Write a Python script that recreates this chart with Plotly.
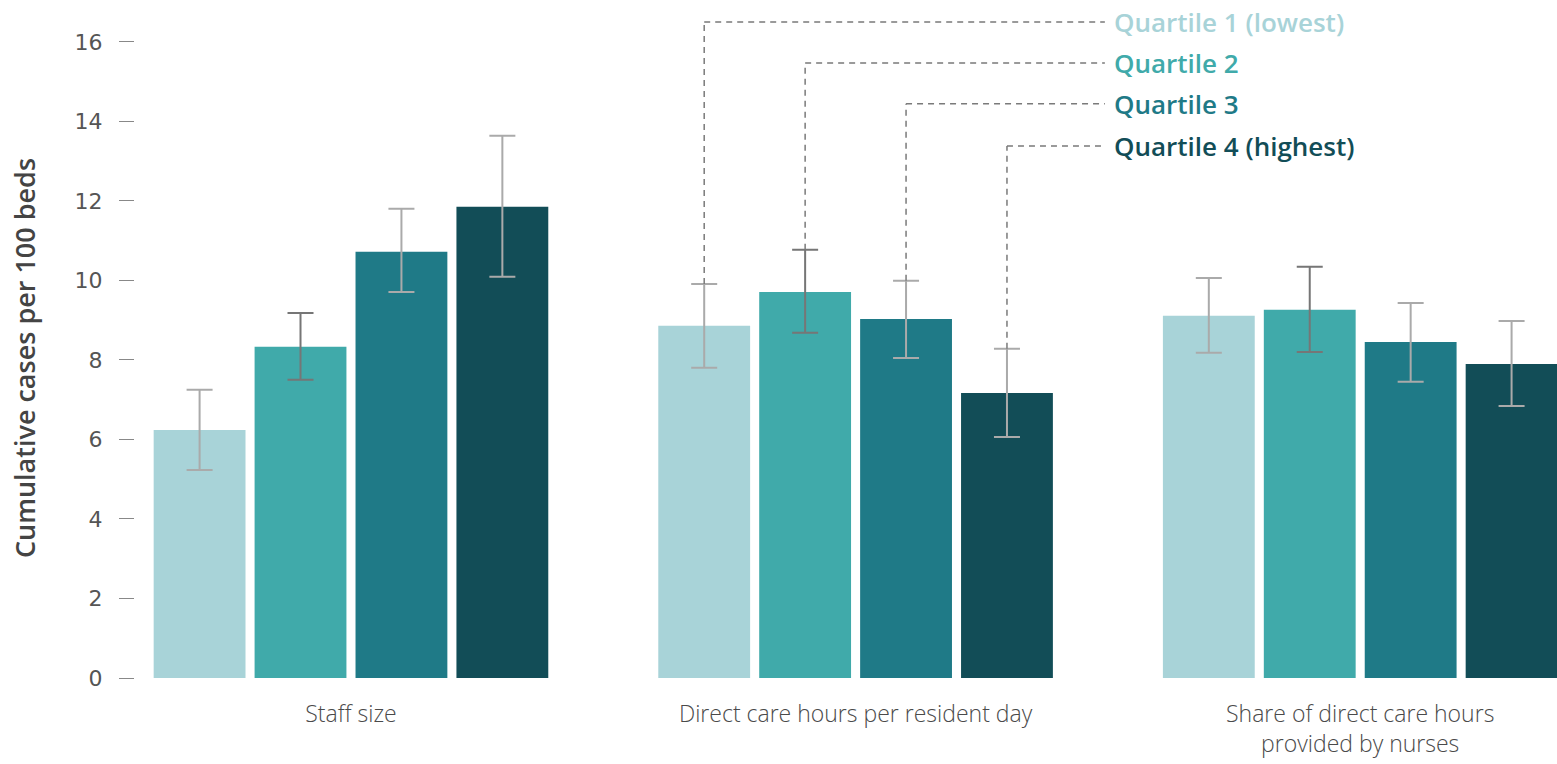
import plotly.graph_objects as go

# Facility characteristic groups and quartile series
categories = ["Staff size", "Direct care hours per resident day",
              "Share of direct care hours<br>provided by nurses"]
quartiles = ["Quartile 1 (lowest)", "Quartile 2", "Quartile 3", "Quartile 4 (highest)"]

q1_values = [6.24, 8.86, 9.11]
q2_values = [8.33, 9.71, 9.26]
q3_values = [10.72, 9.03, 8.45]
q4_values = [11.85, 7.17, 7.90]

q1_upper = [7.25, 9.91, 10.06]
q2_upper = [9.18, 10.77, 10.34]
q3_upper = [11.80, 9.99, 9.43]
q4_upper = [13.64, 8.28, 8.98]

q1_lower = [5.23, 7.80, 8.18]
q2_lower = [7.50, 8.68, 8.20]
q3_lower = [9.71, 8.05, 7.45]
q4_lower = [10.09, 6.06, 6.84]

y_ticks = [0, 2, 4, 6, 8, 10, 12, 14, 16]

values = [q1_values, q2_values, q3_values, q4_values]
uppers = [q1_upper, q2_upper, q3_upper, q4_upper]
lowers = [q1_lower, q2_lower, q3_lower, q4_lower]

colors = ["#a8d3d8", "#40aaaa", "#1f7a87", "#124d57"]
err_colors = ["#aaaaaa", "#767676", "#aaaaaa", "#aaaaaa"]

FONT = "Open Sans, Noto Sans, sans-serif"
BAR_W = 0.182
STEP = 0.2
offsets = [(i - 1.5) * STEP for i in range(4)]

fig = go.Figure()
for i in range(4):
    xs = [g + offsets[i] for g in range(len(categories))]
    fig.add_trace(go.Bar(
        x=xs, y=values[i], width=BAR_W, name=quartiles[i],
        marker=dict(color=colors[i], line=dict(width=0)),
        error_y=dict(
            type="data", symmetric=False,
            array=[u - v for u, v in zip(uppers[i], values[i])],
            arrayminus=[v - l for v, l in zip(values[i], lowers[i])],
            color=err_colors[i], thickness=2, width=13,
        ),
        showlegend=False,
    ))

# Direct-label legend: dashed leaders from the middle group's error bars
label_x = 1.508
line_end_x = 1.494
label_y = [16.5, 15.47, 14.44, 13.38]
mid = 1
for i in range(4):
    bx = mid + offsets[i]
    fig.add_shape(type="line", xref="x", yref="y",
                  x0=bx, x1=bx, y0=uppers[i][mid], y1=label_y[i],
                  line=dict(color="#7a7a7a", width=1.5, dash="6px,5px"))
    fig.add_shape(type="line", xref="x", yref="y",
                  x0=bx, x1=line_end_x, y0=label_y[i], y1=label_y[i],
                  line=dict(color="#7a7a7a", width=1.5, dash="6px,5px"))
    fig.add_annotation(x=label_x, y=label_y[i], xref="x", yref="y",
                       text=quartiles[i], showarrow=False,
                       xanchor="left", yanchor="middle",
                       font=dict(family=FONT, size=26, weight=600, color=colors[i]))

# Y-axis title
fig.add_annotation(x=-0.078, y=0.479, xref="paper", yref="paper",
                   text="Cumulative cases per 100 beds", textangle=-90,
                   showarrow=False, xanchor="center", yanchor="middle",
                   font=dict(family=FONT, size=27, weight=600, color="#444444"))

fig.update_layout(
    width=1557, height=764,
    margin=dict(l=135, r=0, t=10, b=86),
    plot_bgcolor="white", paper_bgcolor="white",
    font=dict(family=FONT, color="#555555"),
    xaxis=dict(
        range=[-0.428, 2.39],
        tickmode="array", tickvals=list(range(len(categories))), ticktext=categories,
        showgrid=False, zeroline=False, showline=False,
        ticks="", ticklabelstandoff=20,
        tickfont=dict(family=FONT, size=23, weight=300, color="#4a4a4a"),
    ),
    yaxis=dict(
        range=[0, 16.8],
        tickmode="array", tickvals=y_ticks,
        showgrid=False, zeroline=False, showline=False,
        ticks="outside", ticklen=15, tickwidth=1.2, tickcolor="#888888",
        ticklabelstandoff=12,
        tickfont=dict(family="DejaVu Sans, sans-serif", size=22, color="#555555"),
    ),
)

fig.write_html("out.html")
